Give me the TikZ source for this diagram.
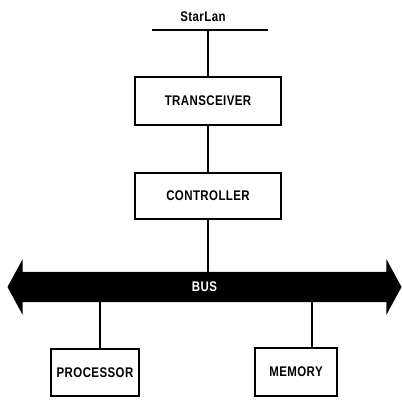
\documentclass[tikz,border=0pt]{standalone}
\usepackage{fontspec}
\setmainfont[FakeStretch=0.82, LetterSpace=3]{Liberation Sans}
\usetikzlibrary{positioning,shapes.arrows}

\begin{document}
\begin{tikzpicture}[
  x=1pt, y=1pt,
  every node/.style={font=\fontsize{14}{16}\selectfont\bfseries},
  unit/.style={rectangle, draw, line width=1.7pt, inner sep=2pt},
  wire/.style={line width=1.7pt},
  busarrow/.style={double arrow, fill=black, text=white,
    double arrow head extend=12.5pt, double arrow tip angle=123,
    minimum height=394pt, text height=9pt, text depth=0pt, inner ysep=10.5pt}
]
\useasboundingbox (0,0) rectangle (402,-400);

% --- nodes (absolute placement for fidelity) ---
\node (star) at (203,-17) {StarLan};
\coordinate (lanL) at (152,-30);
\coordinate (lanR) at (268,-30);
\node[unit, minimum width=146pt, minimum height=48pt] (trx)  at (208,-101) {TRANSCEIVER};
\node[unit, minimum width=146pt, minimum height=46pt] (ctrl) at (208,-196) {CONTROLLER};
\node[busarrow] (bus) at (204.5,-287) {BUS};
\node[unit, minimum width=88pt, minimum height=47pt] (proc) at (95,-372.5) {PROCESSOR};
\node[unit, minimum width=82pt, minimum height=48pt] (mem)  at (296,-372) {MEMORY};

% --- connectors ---
% StarLan tap
\draw[wire] (lanL) -- (lanR);
\draw[wire] (trx.north) -- (trx.north |- lanL);

% down the stack to the bus
\draw[wire] (trx) -- (ctrl);
\draw[wire] (ctrl) -- (ctrl |- bus.north);

% bus to processor and memory
\draw[wire] ([xshift=5pt]proc.north) -- ([xshift=5pt]proc.north |- bus.south);
\draw[wire] ([xshift=16pt]mem.north) -- ([xshift=16pt]mem.north |- bus.south);

\end{tikzpicture}
\end{document}
